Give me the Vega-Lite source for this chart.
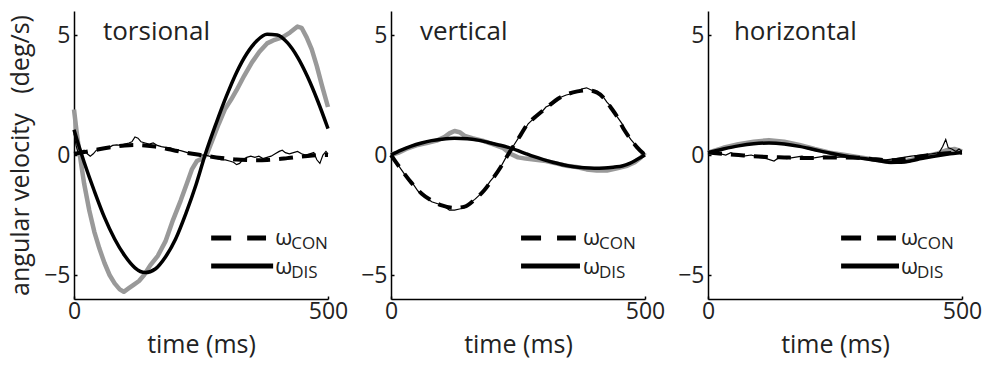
{
"$schema":"https://vega.github.io/schema/vega-lite/v6.json",
"padding":{"left":8,"top":11,"right":0,"bottom":6},
"background":"white",
"spacing":63,
"bounds":"flush",
"config":{"view":{"stroke":null},"font":"Open Sans",
"axis":{"grid":false,"domainColor":"#000","domainWidth":1.5,"tickColor":"#000","tickSize":-3,"tickWidth":1.5,"labelFont":"Open Sans","labelFontSize":23,"labelColor":"#222","labelFlush":false,"titleFont":"Open Sans","titleFontSize":25,"titleFontWeight":"normal","titleColor":"#222"},
"text":{"font":"Open Sans","color":"#222"}},
"datasets":{"d":[
{"p":"T","s":"gd","t":0,"v":1.9},{"p":"T","s":"gd","t":5,"v":1.0},{"p":"T","s":"gd","t":10,"v":0.2},{"p":"T","s":"gd","t":20,"v":-1.2},{"p":"T","s":"gd","t":30,"v":-2.3},{"p":"T","s":"gd","t":40,"v":-3.2},{"p":"T","s":"gd","t":50,"v":-3.9},{"p":"T","s":"gd","t":60,"v":-4.5},{"p":"T","s":"gd","t":70,"v":-5.0},{"p":"T","s":"gd","t":80,"v":-5.35},{"p":"T","s":"gd","t":90,"v":-5.6},{"p":"T","s":"gd","t":98,"v":-5.7},{"p":"T","s":"gd","t":108,"v":-5.55},{"p":"T","s":"gd","t":118,"v":-5.4},{"p":"T","s":"gd","t":128,"v":-5.25},{"p":"T","s":"gd","t":138,"v":-5.0},{"p":"T","s":"gd","t":150,"v":-4.6},{"p":"T","s":"gd","t":165,"v":-4.2},{"p":"T","s":"gd","t":180,"v":-3.6},{"p":"T","s":"gd","t":195,"v":-2.7},{"p":"T","s":"gd","t":210,"v":-1.9},{"p":"T","s":"gd","t":222,"v":-1.2},{"p":"T","s":"gd","t":232,"v":-0.6},{"p":"T","s":"gd","t":242,"v":-0.25},{"p":"T","s":"gd","t":252,"v":-0.15},{"p":"T","s":"gd","t":262,"v":0.05},{"p":"T","s":"gd","t":272,"v":0.6},{"p":"T","s":"gd","t":285,"v":1.3},{"p":"T","s":"gd","t":297,"v":1.9},{"p":"T","s":"gd","t":309,"v":2.3},{"p":"T","s":"gd","t":320,"v":2.7},{"p":"T","s":"gd","t":335,"v":3.3},{"p":"T","s":"gd","t":350,"v":3.85},{"p":"T","s":"gd","t":365,"v":4.3},{"p":"T","s":"gd","t":380,"v":4.65},{"p":"T","s":"gd","t":395,"v":4.8},{"p":"T","s":"gd","t":410,"v":4.9},{"p":"T","s":"gd","t":425,"v":5.1},{"p":"T","s":"gd","t":440,"v":5.35},{"p":"T","s":"gd","t":448,"v":5.3},{"p":"T","s":"gd","t":458,"v":4.9},{"p":"T","s":"gd","t":468,"v":4.4},{"p":"T","s":"gd","t":478,"v":3.7},{"p":"T","s":"gd","t":488,"v":2.9},{"p":"T","s":"gd","t":500,"v":2.0},
{"p":"T","s":"fd","t":0,"v":1.05},{"p":"T","s":"fd","t":10,"v":0.35},{"p":"T","s":"fd","t":20,"v":-0.3},{"p":"T","s":"fd","t":40,"v":-1.5},{"p":"T","s":"fd","t":60,"v":-2.6},{"p":"T","s":"fd","t":80,"v":-3.5},{"p":"T","s":"fd","t":100,"v":-4.2},{"p":"T","s":"fd","t":120,"v":-4.7},{"p":"T","s":"fd","t":140,"v":-4.9},{"p":"T","s":"fd","t":160,"v":-4.75},{"p":"T","s":"fd","t":180,"v":-4.25},{"p":"T","s":"fd","t":200,"v":-3.5},{"p":"T","s":"fd","t":220,"v":-2.45},{"p":"T","s":"fd","t":240,"v":-1.25},{"p":"T","s":"fd","t":258,"v":0.0},{"p":"T","s":"fd","t":280,"v":1.33},{"p":"T","s":"fd","t":300,"v":2.45},{"p":"T","s":"fd","t":320,"v":3.44},{"p":"T","s":"fd","t":340,"v":4.22},{"p":"T","s":"fd","t":360,"v":4.76},{"p":"T","s":"fd","t":380,"v":5.03},{"p":"T","s":"fd","t":400,"v":5.0},{"p":"T","s":"fd","t":420,"v":4.68},{"p":"T","s":"fd","t":440,"v":4.08},{"p":"T","s":"fd","t":460,"v":3.25},{"p":"T","s":"fd","t":480,"v":2.24},{"p":"T","s":"fd","t":500,"v":1.1},
{"p":"T","s":"fc","t":0,"v":0.05},{"p":"T","s":"fc","t":20,"v":0.12},{"p":"T","s":"fc","t":40,"v":0.2},{"p":"T","s":"fc","t":60,"v":0.28},{"p":"T","s":"fc","t":80,"v":0.35},{"p":"T","s":"fc","t":100,"v":0.4},{"p":"T","s":"fc","t":120,"v":0.42},{"p":"T","s":"fc","t":140,"v":0.4},{"p":"T","s":"fc","t":160,"v":0.35},{"p":"T","s":"fc","t":180,"v":0.27},{"p":"T","s":"fc","t":200,"v":0.18},{"p":"T","s":"fc","t":220,"v":0.1},{"p":"T","s":"fc","t":240,"v":0.03},{"p":"T","s":"fc","t":260,"v":-0.04},{"p":"T","s":"fc","t":280,"v":-0.1},{"p":"T","s":"fc","t":300,"v":-0.15},{"p":"T","s":"fc","t":320,"v":-0.19},{"p":"T","s":"fc","t":340,"v":-0.21},{"p":"T","s":"fc","t":360,"v":-0.22},{"p":"T","s":"fc","t":380,"v":-0.21},{"p":"T","s":"fc","t":400,"v":-0.18},{"p":"T","s":"fc","t":420,"v":-0.13},{"p":"T","s":"fc","t":440,"v":-0.08},{"p":"T","s":"fc","t":460,"v":-0.04},{"p":"T","s":"fc","t":480,"v":-0.01},{"p":"T","s":"fc","t":500,"v":0.0},
{"p":"T","s":"dc","t":0,"v":0.9},{"p":"T","s":"dc","t":4,"v":0.4},{"p":"T","s":"dc","t":8,"v":0.1},{"p":"T","s":"dc","t":14,"v":0.15},{"p":"T","s":"dc","t":20,"v":0.2},{"p":"T","s":"dc","t":26,"v":0.05},{"p":"T","s":"dc","t":32,"v":-0.05},{"p":"T","s":"dc","t":38,"v":0.05},{"p":"T","s":"dc","t":44,"v":0.2},{"p":"T","s":"dc","t":52,"v":0.25},{"p":"T","s":"dc","t":60,"v":0.3},{"p":"T","s":"dc","t":68,"v":0.3},{"p":"T","s":"dc","t":76,"v":0.4},{"p":"T","s":"dc","t":84,"v":0.42},{"p":"T","s":"dc","t":92,"v":0.4},{"p":"T","s":"dc","t":100,"v":0.45},{"p":"T","s":"dc","t":108,"v":0.5},{"p":"T","s":"dc","t":114,"v":0.55},{"p":"T","s":"dc","t":120,"v":0.75},{"p":"T","s":"dc","t":126,"v":0.7},{"p":"T","s":"dc","t":132,"v":0.55},{"p":"T","s":"dc","t":140,"v":0.5},{"p":"T","s":"dc","t":148,"v":0.45},{"p":"T","s":"dc","t":156,"v":0.5},{"p":"T","s":"dc","t":164,"v":0.4},{"p":"T","s":"dc","t":172,"v":0.35},{"p":"T","s":"dc","t":180,"v":0.32},{"p":"T","s":"dc","t":190,"v":0.3},{"p":"T","s":"dc","t":200,"v":0.22},{"p":"T","s":"dc","t":210,"v":0.18},{"p":"T","s":"dc","t":220,"v":0.12},{"p":"T","s":"dc","t":230,"v":0.05},{"p":"T","s":"dc","t":240,"v":0.02},{"p":"T","s":"dc","t":250,"v":0.0},{"p":"T","s":"dc","t":258,"v":0.0},{"p":"T","s":"dc","t":266,"v":-0.05},{"p":"T","s":"dc","t":274,"v":-0.1},{"p":"T","s":"dc","t":282,"v":-0.15},{"p":"T","s":"dc","t":290,"v":-0.2},{"p":"T","s":"dc","t":298,"v":-0.2},{"p":"T","s":"dc","t":306,"v":-0.25},{"p":"T","s":"dc","t":314,"v":-0.3},{"p":"T","s":"dc","t":320,"v":-0.4},{"p":"T","s":"dc","t":326,"v":-0.35},{"p":"T","s":"dc","t":332,"v":-0.2},{"p":"T","s":"dc","t":340,"v":-0.1},{"p":"T","s":"dc","t":348,"v":-0.05},{"p":"T","s":"dc","t":356,"v":-0.1},{"p":"T","s":"dc","t":364,"v":-0.05},{"p":"T","s":"dc","t":372,"v":-0.15},{"p":"T","s":"dc","t":380,"v":-0.1},{"p":"T","s":"dc","t":388,"v":-0.05},{"p":"T","s":"dc","t":396,"v":0.05},{"p":"T","s":"dc","t":404,"v":0.15},{"p":"T","s":"dc","t":410,"v":0.2},{"p":"T","s":"dc","t":416,"v":0.1},{"p":"T","s":"dc","t":424,"v":0.05},{"p":"T","s":"dc","t":432,"v":0.1},{"p":"T","s":"dc","t":440,"v":0.15},{"p":"T","s":"dc","t":448,"v":0.05},{"p":"T","s":"dc","t":456,"v":0.0},{"p":"T","s":"dc","t":464,"v":0.05},{"p":"T","s":"dc","t":472,"v":0.1},{"p":"T","s":"dc","t":478,"v":-0.2},{"p":"T","s":"dc","t":484,"v":-0.35},{"p":"T","s":"dc","t":490,"v":0.0},{"p":"T","s":"dc","t":496,"v":0.15},{"p":"T","s":"dc","t":500,"v":0.05},
{"p":"V","s":"gd","t":0,"v":0},{"p":"V","s":"gd","t":15,"v":0.1},{"p":"V","s":"gd","t":30,"v":0.25},{"p":"V","s":"gd","t":50,"v":0.4},{"p":"V","s":"gd","t":70,"v":0.5},{"p":"V","s":"gd","t":90,"v":0.6},{"p":"V","s":"gd","t":105,"v":0.75},{"p":"V","s":"gd","t":115,"v":0.9},{"p":"V","s":"gd","t":125,"v":1.0},{"p":"V","s":"gd","t":135,"v":0.95},{"p":"V","s":"gd","t":145,"v":0.8},{"p":"V","s":"gd","t":160,"v":0.7},{"p":"V","s":"gd","t":180,"v":0.6},{"p":"V","s":"gd","t":200,"v":0.45},{"p":"V","s":"gd","t":220,"v":0.3},{"p":"V","s":"gd","t":235,"v":0.05},{"p":"V","s":"gd","t":250,"v":-0.1},{"p":"V","s":"gd","t":265,"v":-0.15},{"p":"V","s":"gd","t":285,"v":-0.2},{"p":"V","s":"gd","t":305,"v":-0.25},{"p":"V","s":"gd","t":325,"v":-0.35},{"p":"V","s":"gd","t":345,"v":-0.45},{"p":"V","s":"gd","t":365,"v":-0.5},{"p":"V","s":"gd","t":385,"v":-0.6},{"p":"V","s":"gd","t":405,"v":-0.65},{"p":"V","s":"gd","t":425,"v":-0.65},{"p":"V","s":"gd","t":445,"v":-0.55},{"p":"V","s":"gd","t":465,"v":-0.45},{"p":"V","s":"gd","t":480,"v":-0.3},{"p":"V","s":"gd","t":492,"v":-0.1},{"p":"V","s":"gd","t":500,"v":0.1},
{"p":"V","s":"fd","t":0,"v":0},{"p":"V","s":"fd","t":20,"v":0.2},{"p":"V","s":"fd","t":40,"v":0.37},{"p":"V","s":"fd","t":60,"v":0.5},{"p":"V","s":"fd","t":80,"v":0.6},{"p":"V","s":"fd","t":100,"v":0.66},{"p":"V","s":"fd","t":125,"v":0.7},{"p":"V","s":"fd","t":150,"v":0.68},{"p":"V","s":"fd","t":171,"v":0.62},{"p":"V","s":"fd","t":190,"v":0.53},{"p":"V","s":"fd","t":210,"v":0.43},{"p":"V","s":"fd","t":229,"v":0.33},{"p":"V","s":"fd","t":250,"v":0.18},{"p":"V","s":"fd","t":265,"v":0.06},{"p":"V","s":"fd","t":282,"v":-0.07},{"p":"V","s":"fd","t":300,"v":-0.19},{"p":"V","s":"fd","t":320,"v":-0.31},{"p":"V","s":"fd","t":341,"v":-0.42},{"p":"V","s":"fd","t":360,"v":-0.49},{"p":"V","s":"fd","t":380,"v":-0.53},{"p":"V","s":"fd","t":400,"v":-0.55},{"p":"V","s":"fd","t":420,"v":-0.54},{"p":"V","s":"fd","t":440,"v":-0.5},{"p":"V","s":"fd","t":455,"v":-0.46},{"p":"V","s":"fd","t":470,"v":-0.35},{"p":"V","s":"fd","t":485,"v":-0.18},{"p":"V","s":"fd","t":500,"v":0.0},
{"p":"V","s":"fc","t":0,"v":0},{"p":"V","s":"fc","t":20,"v":-0.6},{"p":"V","s":"fc","t":40,"v":-1.15},{"p":"V","s":"fc","t":60,"v":-1.6},{"p":"V","s":"fc","t":80,"v":-1.9},{"p":"V","s":"fc","t":100,"v":-2.1},{"p":"V","s":"fc","t":125,"v":-2.2},{"p":"V","s":"fc","t":145,"v":-2.15},{"p":"V","s":"fc","t":165,"v":-1.85},{"p":"V","s":"fc","t":184,"v":-1.46},{"p":"V","s":"fc","t":200,"v":-1.0},{"p":"V","s":"fc","t":216,"v":-0.5},{"p":"V","s":"fc","t":230,"v":0.0},{"p":"V","s":"fc","t":255,"v":0.83},{"p":"V","s":"fc","t":269,"v":1.3},{"p":"V","s":"fc","t":285,"v":1.6},{"p":"V","s":"fc","t":302,"v":1.9},{"p":"V","s":"fc","t":333,"v":2.4},{"p":"V","s":"fc","t":367,"v":2.65},{"p":"V","s":"fc","t":385,"v":2.7},{"p":"V","s":"fc","t":406,"v":2.6},{"p":"V","s":"fc","t":420,"v":2.35},{"p":"V","s":"fc","t":432,"v":2.0},{"p":"V","s":"fc","t":445,"v":1.6},{"p":"V","s":"fc","t":459,"v":1.05},{"p":"V","s":"fc","t":472,"v":0.65},{"p":"V","s":"fc","t":484,"v":0.33},{"p":"V","s":"fc","t":500,"v":0.0},
{"p":"V","s":"dc","t":0,"v":0.0},{"p":"V","s":"dc","t":10,"v":-0.3},{"p":"V","s":"dc","t":20,"v":-0.6},{"p":"V","s":"dc","t":30,"v":-0.9},{"p":"V","s":"dc","t":40,"v":-1.1},{"p":"V","s":"dc","t":53,"v":-1.5},{"p":"V","s":"dc","t":65,"v":-1.7},{"p":"V","s":"dc","t":80,"v":-1.95},{"p":"V","s":"dc","t":95,"v":-2.05},{"p":"V","s":"dc","t":105,"v":-2.15},{"p":"V","s":"dc","t":115,"v":-2.3},{"p":"V","s":"dc","t":125,"v":-2.3},{"p":"V","s":"dc","t":135,"v":-2.25},{"p":"V","s":"dc","t":145,"v":-2.2},{"p":"V","s":"dc","t":155,"v":-2.0},{"p":"V","s":"dc","t":165,"v":-1.85},{"p":"V","s":"dc","t":175,"v":-1.65},{"p":"V","s":"dc","t":184,"v":-1.45},{"p":"V","s":"dc","t":195,"v":-1.1},{"p":"V","s":"dc","t":205,"v":-0.85},{"p":"V","s":"dc","t":216,"v":-0.5},{"p":"V","s":"dc","t":225,"v":-0.15},{"p":"V","s":"dc","t":233,"v":0.1},{"p":"V","s":"dc","t":243,"v":0.45},{"p":"V","s":"dc","t":255,"v":0.85},{"p":"V","s":"dc","t":263,"v":1.05},{"p":"V","s":"dc","t":270,"v":1.3},{"p":"V","s":"dc","t":285,"v":1.6},{"p":"V","s":"dc","t":295,"v":1.75},{"p":"V","s":"dc","t":305,"v":2.0},{"p":"V","s":"dc","t":320,"v":2.15},{"p":"V","s":"dc","t":333,"v":2.4},{"p":"V","s":"dc","t":345,"v":2.5},{"p":"V","s":"dc","t":355,"v":2.55},{"p":"V","s":"dc","t":367,"v":2.65},{"p":"V","s":"dc","t":375,"v":2.75},{"p":"V","s":"dc","t":385,"v":2.8},{"p":"V","s":"dc","t":395,"v":2.7},{"p":"V","s":"dc","t":406,"v":2.65},{"p":"V","s":"dc","t":415,"v":2.5},{"p":"V","s":"dc","t":425,"v":2.2},{"p":"V","s":"dc","t":432,"v":2.05},{"p":"V","s":"dc","t":445,"v":1.6},{"p":"V","s":"dc","t":455,"v":1.3},{"p":"V","s":"dc","t":462,"v":0.95},{"p":"V","s":"dc","t":472,"v":0.65},{"p":"V","s":"dc","t":484,"v":0.35},{"p":"V","s":"dc","t":492,"v":0.15},{"p":"V","s":"dc","t":500,"v":0.05},
{"p":"H","s":"gd","t":0,"v":0.1},{"p":"H","s":"gd","t":30,"v":0.3},{"p":"H","s":"gd","t":60,"v":0.45},{"p":"H","s":"gd","t":90,"v":0.55},{"p":"H","s":"gd","t":120,"v":0.62},{"p":"H","s":"gd","t":150,"v":0.55},{"p":"H","s":"gd","t":180,"v":0.42},{"p":"H","s":"gd","t":210,"v":0.25},{"p":"H","s":"gd","t":240,"v":0.1},{"p":"H","s":"gd","t":270,"v":0.0},{"p":"H","s":"gd","t":300,"v":-0.1},{"p":"H","s":"gd","t":330,"v":-0.2},{"p":"H","s":"gd","t":360,"v":-0.3},{"p":"H","s":"gd","t":390,"v":-0.25},{"p":"H","s":"gd","t":420,"v":-0.1},{"p":"H","s":"gd","t":450,"v":0.05},{"p":"H","s":"gd","t":470,"v":0.2},{"p":"H","s":"gd","t":485,"v":0.25},{"p":"H","s":"gd","t":500,"v":0.15},
{"p":"H","s":"fd","t":0,"v":0.1},{"p":"H","s":"fd","t":30,"v":0.25},{"p":"H","s":"fd","t":60,"v":0.38},{"p":"H","s":"fd","t":90,"v":0.47},{"p":"H","s":"fd","t":120,"v":0.5},{"p":"H","s":"fd","t":150,"v":0.46},{"p":"H","s":"fd","t":180,"v":0.36},{"p":"H","s":"fd","t":210,"v":0.22},{"p":"H","s":"fd","t":240,"v":0.08},{"p":"H","s":"fd","t":270,"v":-0.04},{"p":"H","s":"fd","t":300,"v":-0.13},{"p":"H","s":"fd","t":330,"v":-0.22},{"p":"H","s":"fd","t":360,"v":-0.3},{"p":"H","s":"fd","t":380,"v":-0.3},{"p":"H","s":"fd","t":400,"v":-0.24},{"p":"H","s":"fd","t":420,"v":-0.15},{"p":"H","s":"fd","t":445,"v":-0.05},{"p":"H","s":"fd","t":470,"v":0.03},{"p":"H","s":"fd","t":500,"v":0.1},
{"p":"H","s":"fc","t":0,"v":0.1},{"p":"H","s":"fc","t":30,"v":0.05},{"p":"H","s":"fc","t":60,"v":0.0},{"p":"H","s":"fc","t":90,"v":-0.05},{"p":"H","s":"fc","t":120,"v":-0.08},{"p":"H","s":"fc","t":150,"v":-0.1},{"p":"H","s":"fc","t":180,"v":-0.12},{"p":"H","s":"fc","t":210,"v":-0.12},{"p":"H","s":"fc","t":240,"v":-0.1},{"p":"H","s":"fc","t":270,"v":-0.1},{"p":"H","s":"fc","t":300,"v":-0.12},{"p":"H","s":"fc","t":330,"v":-0.18},{"p":"H","s":"fc","t":360,"v":-0.22},{"p":"H","s":"fc","t":390,"v":-0.15},{"p":"H","s":"fc","t":420,"v":-0.05},{"p":"H","s":"fc","t":450,"v":0.03},{"p":"H","s":"fc","t":480,"v":0.08},{"p":"H","s":"fc","t":500,"v":0.1},
{"p":"H","s":"dc","t":0,"v":0.05},{"p":"H","s":"dc","t":15,"v":0.1},{"p":"H","s":"dc","t":25,"v":0.05},{"p":"H","s":"dc","t":35,"v":0.0},{"p":"H","s":"dc","t":45,"v":0.1},{"p":"H","s":"dc","t":55,"v":0.0},{"p":"H","s":"dc","t":70,"v":-0.05},{"p":"H","s":"dc","t":85,"v":0.0},{"p":"H","s":"dc","t":100,"v":-0.1},{"p":"H","s":"dc","t":115,"v":-0.15},{"p":"H","s":"dc","t":130,"v":-0.25},{"p":"H","s":"dc","t":140,"v":-0.1},{"p":"H","s":"dc","t":155,"v":-0.15},{"p":"H","s":"dc","t":170,"v":-0.1},{"p":"H","s":"dc","t":185,"v":-0.05},{"p":"H","s":"dc","t":200,"v":-0.15},{"p":"H","s":"dc","t":215,"v":-0.1},{"p":"H","s":"dc","t":230,"v":-0.05},{"p":"H","s":"dc","t":250,"v":-0.1},{"p":"H","s":"dc","t":270,"v":-0.08},{"p":"H","s":"dc","t":290,"v":-0.12},{"p":"H","s":"dc","t":310,"v":-0.15},{"p":"H","s":"dc","t":330,"v":-0.2},{"p":"H","s":"dc","t":350,"v":-0.2},{"p":"H","s":"dc","t":370,"v":-0.15},{"p":"H","s":"dc","t":385,"v":-0.1},{"p":"H","s":"dc","t":400,"v":-0.05},{"p":"H","s":"dc","t":420,"v":0.0},{"p":"H","s":"dc","t":440,"v":0.05},{"p":"H","s":"dc","t":455,"v":0.1},{"p":"H","s":"dc","t":462,"v":0.35},{"p":"H","s":"dc","t":468,"v":0.65},{"p":"H","s":"dc","t":473,"v":0.3},{"p":"H","s":"dc","t":480,"v":0.25},{"p":"H","s":"dc","t":488,"v":0.15},{"p":"H","s":"dc","t":494,"v":0.25},{"p":"H","s":"dc","t":500,"v":0.15}
]},
"hconcat":[
{"width":254,"height":288,"layer":[
{"data":{"name":"d"},"transform":[{"filter":"datum.p=='T'&&datum.s=='gd'"}],"mark":{"type":"line","color":"#999999","strokeWidth":4.5,"strokeJoin":"round"},"encoding":{"x":{"field":"t","type":"quantitative","scale":{"domain":[0,500],"nice":false},"axis":{"values":[0,500],"title":"time (ms)","labelPadding":4,"titlePadding":9}},"y":{"field":"v","type":"quantitative","scale":{"domain":[-6,6],"nice":false},"axis":{"values":[-5,0,5],"title":"angular velocity\u00a0\u00a0 (deg/s)","labelPadding":7,"titlePadding":10}}}},
{"data":{"name":"d"},"transform":[{"filter":"datum.p=='T'&&datum.s=='fc'"}],"mark":{"type":"line","color":"#000","strokeWidth":4,"strokeDash":[14,9],"interpolate":"monotone"},"encoding":{"x":{"field":"t","type":"quantitative"},"y":{"field":"v","type":"quantitative"}}},
{"data":{"name":"d"},"transform":[{"filter":"datum.p=='T'&&datum.s=='dc'"}],"mark":{"type":"line","color":"#000","strokeWidth":1.2},"encoding":{"x":{"field":"t","type":"quantitative"},"y":{"field":"v","type":"quantitative"}}},
{"data":{"name":"d"},"transform":[{"filter":"datum.p=='T'&&datum.s=='fd'"}],"mark":{"type":"line","color":"#000","strokeWidth":3.5,"interpolate":"monotone"},"encoding":{"x":{"field":"t","type":"quantitative"},"y":{"field":"v","type":"quantitative"}}},
{"data":{"values":[{}]},"mark":{"type":"rule","color":"#000","strokeWidth":5,"strokeDash":[20,16]},"encoding":{"x":{"datum":270},"x2":{"datum":378},"y":{"datum":-3.46}}},
{"data":{"values":[{}]},"mark":{"type":"rule","color":"#000","strokeWidth":5},"encoding":{"x":{"datum":270},"x2":{"datum":392},"y":{"datum":-4.63}}},
{"data":{"values":[{}]},"mark":{"type":"text","text":"ω","fontSize":22,"align":"left","baseline":"middle"},"encoding":{"x":{"datum":396},"y":{"datum":-3.45}}},
{"data":{"values":[{}]},"mark":{"type":"text","text":"CON","fontSize":17,"align":"left","baseline":"middle","dx":16,"dy":6},"encoding":{"x":{"datum":396},"y":{"datum":-3.45}}},
{"data":{"values":[{}]},"mark":{"type":"text","text":"ω","fontSize":22,"align":"left","baseline":"middle"},"encoding":{"x":{"datum":396},"y":{"datum":-4.65}}},
{"data":{"values":[{}]},"mark":{"type":"text","text":"DIS","fontSize":17,"align":"left","baseline":"middle","dx":16,"dy":6},"encoding":{"x":{"datum":396},"y":{"datum":-4.65}}},
{"data":{"values":[{}]},"mark":{"type":"text","text":"torsional","fontSize":26,"align":"left","baseline":"alphabetic"},"encoding":{"x":{"datum":57},"y":{"datum":4.79}}}
]},
{"width":254,"height":288,"layer":[
{"data":{"name":"d"},"transform":[{"filter":"datum.p=='V'&&datum.s=='gd'"}],"mark":{"type":"line","color":"#999999","strokeWidth":4.5,"strokeJoin":"round"},"encoding":{"x":{"field":"t","type":"quantitative","scale":{"domain":[0,500],"nice":false},"axis":{"values":[0,500],"title":"time (ms)","labelPadding":4,"titlePadding":9}},"y":{"field":"v","type":"quantitative","scale":{"domain":[-6,6],"nice":false},"axis":{"values":[-5,0,5],"title":null,"labelPadding":7}}}},
{"data":{"name":"d"},"transform":[{"filter":"datum.p=='V'&&datum.s=='fc'"}],"mark":{"type":"line","color":"#000","strokeWidth":4,"strokeDash":[14,9],"interpolate":"monotone"},"encoding":{"x":{"field":"t","type":"quantitative"},"y":{"field":"v","type":"quantitative"}}},
{"data":{"name":"d"},"transform":[{"filter":"datum.p=='V'&&datum.s=='dc'"}],"mark":{"type":"line","color":"#000","strokeWidth":1.2},"encoding":{"x":{"field":"t","type":"quantitative"},"y":{"field":"v","type":"quantitative"}}},
{"data":{"name":"d"},"transform":[{"filter":"datum.p=='V'&&datum.s=='fd'"}],"mark":{"type":"line","color":"#000","strokeWidth":3.5,"interpolate":"monotone"},"encoding":{"x":{"field":"t","type":"quantitative"},"y":{"field":"v","type":"quantitative"}}},
{"data":{"values":[{}]},"mark":{"type":"rule","color":"#000","strokeWidth":5,"strokeDash":[20,16]},"encoding":{"x":{"datum":256},"x2":{"datum":364},"y":{"datum":-3.46}}},
{"data":{"values":[{}]},"mark":{"type":"rule","color":"#000","strokeWidth":5},"encoding":{"x":{"datum":256},"x2":{"datum":372},"y":{"datum":-4.63}}},
{"data":{"values":[{}]},"mark":{"type":"text","text":"ω","fontSize":22,"align":"left","baseline":"middle"},"encoding":{"x":{"datum":378},"y":{"datum":-3.45}}},
{"data":{"values":[{}]},"mark":{"type":"text","text":"CON","fontSize":17,"align":"left","baseline":"middle","dx":16,"dy":6},"encoding":{"x":{"datum":378},"y":{"datum":-3.45}}},
{"data":{"values":[{}]},"mark":{"type":"text","text":"ω","fontSize":22,"align":"left","baseline":"middle"},"encoding":{"x":{"datum":378},"y":{"datum":-4.65}}},
{"data":{"values":[{}]},"mark":{"type":"text","text":"DIS","fontSize":17,"align":"left","baseline":"middle","dx":16,"dy":6},"encoding":{"x":{"datum":378},"y":{"datum":-4.65}}},
{"data":{"values":[{}]},"mark":{"type":"text","text":"vertical","fontSize":26,"align":"left","baseline":"alphabetic"},"encoding":{"x":{"datum":57},"y":{"datum":4.79}}}
]},
{"width":254,"height":288,"layer":[
{"data":{"name":"d"},"transform":[{"filter":"datum.p=='H'&&datum.s=='gd'"}],"mark":{"type":"line","color":"#999999","strokeWidth":4.5,"strokeJoin":"round"},"encoding":{"x":{"field":"t","type":"quantitative","scale":{"domain":[0,500],"nice":false},"axis":{"values":[0,500],"title":"time (ms)","labelPadding":4,"titlePadding":9}},"y":{"field":"v","type":"quantitative","scale":{"domain":[-6,6],"nice":false},"axis":{"values":[-5,0,5],"title":null,"labelPadding":7}}}},
{"data":{"name":"d"},"transform":[{"filter":"datum.p=='H'&&datum.s=='fc'"}],"mark":{"type":"line","color":"#000","strokeWidth":4,"strokeDash":[14,9],"interpolate":"monotone"},"encoding":{"x":{"field":"t","type":"quantitative"},"y":{"field":"v","type":"quantitative"}}},
{"data":{"name":"d"},"transform":[{"filter":"datum.p=='H'&&datum.s=='dc'"}],"mark":{"type":"line","color":"#000","strokeWidth":1.2},"encoding":{"x":{"field":"t","type":"quantitative"},"y":{"field":"v","type":"quantitative"}}},
{"data":{"name":"d"},"transform":[{"filter":"datum.p=='H'&&datum.s=='fd'"}],"mark":{"type":"line","color":"#000","strokeWidth":3.5,"interpolate":"monotone"},"encoding":{"x":{"field":"t","type":"quantitative"},"y":{"field":"v","type":"quantitative"}}},
{"data":{"values":[{}]},"mark":{"type":"rule","color":"#000","strokeWidth":5,"strokeDash":[20,16]},"encoding":{"x":{"datum":262},"x2":{"datum":370},"y":{"datum":-3.46}}},
{"data":{"values":[{}]},"mark":{"type":"rule","color":"#000","strokeWidth":5},"encoding":{"x":{"datum":262},"x2":{"datum":376},"y":{"datum":-4.63}}},
{"data":{"values":[{}]},"mark":{"type":"text","text":"ω","fontSize":22,"align":"left","baseline":"middle"},"encoding":{"x":{"datum":380},"y":{"datum":-3.45}}},
{"data":{"values":[{}]},"mark":{"type":"text","text":"CON","fontSize":17,"align":"left","baseline":"middle","dx":16,"dy":6},"encoding":{"x":{"datum":380},"y":{"datum":-3.45}}},
{"data":{"values":[{}]},"mark":{"type":"text","text":"ω","fontSize":22,"align":"left","baseline":"middle"},"encoding":{"x":{"datum":380},"y":{"datum":-4.65}}},
{"data":{"values":[{}]},"mark":{"type":"text","text":"DIS","fontSize":17,"align":"left","baseline":"middle","dx":16,"dy":6},"encoding":{"x":{"datum":380},"y":{"datum":-4.65}}},
{"data":{"values":[{}]},"mark":{"type":"text","text":"horizontal","fontSize":26,"align":"left","baseline":"alphabetic"},"encoding":{"x":{"datum":51},"y":{"datum":4.79}}}
]}
]
}
